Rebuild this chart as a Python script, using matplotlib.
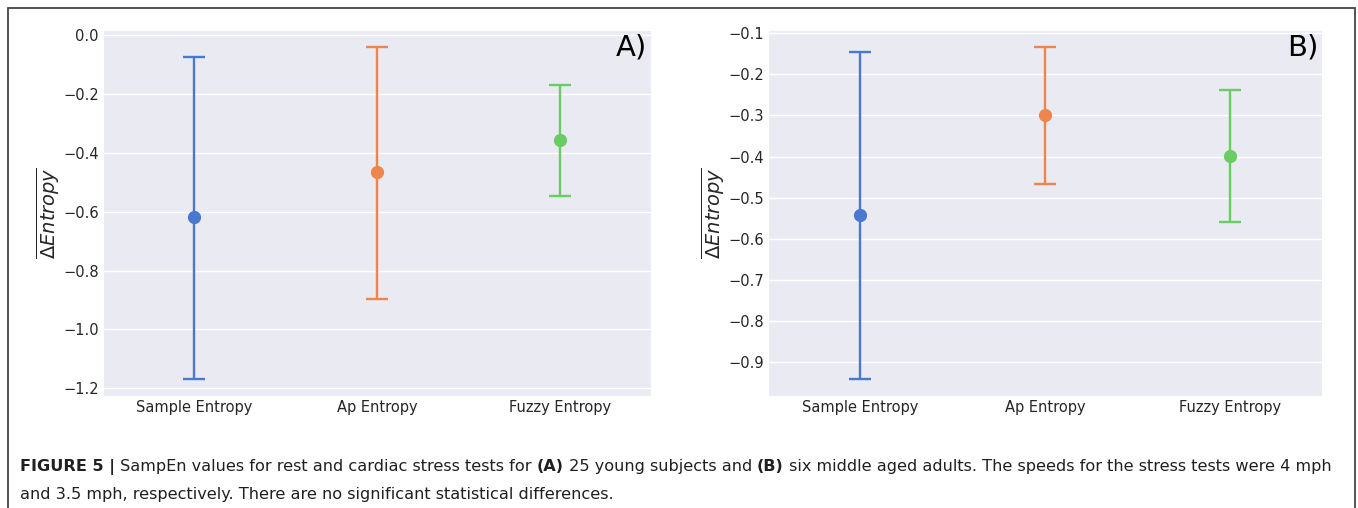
import matplotlib
matplotlib.use("Agg")
import matplotlib.pyplot as plt
import matplotlib.patches as mpatches
import matplotlib.ticker as mticker
import seaborn as sns
import numpy as np

# ---- data ----
categories = ["Sample Entropy", "Ap Entropy", "Fuzzy Entropy"]
mean_A = [-0.618, -0.466, -0.357]
low_A = [-1.170, -0.897, -0.547]
high_A = [-0.073, -0.038, -0.170]

mean_B = [-0.542, -0.298, -0.398]
low_B = [-0.941, -0.466, -0.559]
high_B = [-0.145, -0.133, -0.239]

colors = ["#4878D0", "#EE854A", "#6ACC64"]
panel_labels = ["A)", "B)"]
ylabel = r"$\overline{\Delta Entropy}$"

caption_line1 = [("FIGURE 5 |", "bold"),
                 (" SampEn values for rest and cardiac stress tests for ", "normal"),
                 ("(A)", "bold"),
                 (" 25 young subjects and ", "normal"),
                 ("(B)", "bold"),
                 (" six middle aged adults. The speeds for the stress tests were 4 mph", "normal")]
caption_line2 = [("and 3.5 mph, respectively. There are no significant statistical differences.", "normal")]

sns.set_style("darkgrid")
plt.rcParams["font.family"] = ["DejaVu Sans"]
plt.rcParams["axes.unicode_minus"] = True

W, H = 1358, 508
fig = plt.figure(figsize=(W / 100, H / 100), dpi=100)
fig.patch.set_facecolor("white")

axA = fig.add_axes([103 / W, 1 - 396 / H, (651 - 103) / W, (396 - 30) / H])
axB = fig.add_axes([768 / W, 1 - 396 / H, (1322 - 768) / W, (396 - 30) / H])

for ax, means, lows, highs, lab in [(axA, mean_A, low_A, high_A, panel_labels[0]),
                                     (axB, mean_B, low_B, high_B, panel_labels[1])]:
    x = np.arange(len(categories))
    for i in range(len(categories)):
        m = means[i]
        err = [[m - lows[i]], [highs[i] - m]]
        ax.errorbar([x[i]], [m], yerr=err, fmt="o", color=colors[i],
                    ecolor=colors[i], elinewidth=1.7, capsize=8, capthick=1.7,
                    markersize=8.5, zorder=3)
    ax.set_xlim(-0.5, 2.5)
    ax.set_xticks(x)
    ax.set_xticklabels(categories)
    ax.xaxis.grid(False)
    ax.yaxis.grid(True, color="white", linewidth=1.0)
    ax.set_facecolor("#EAEAF2")
    ax.tick_params(axis="both", labelsize=10.5, colors="0.15", length=0)
    ax.tick_params(axis="y", pad=3)
    ax.tick_params(axis="x", pad=3)
    ax.set_ylabel(ylabel, fontsize=14, color="0.15", labelpad=1)
    ax.text(0.993, 0.99, lab, transform=ax.transAxes, ha="right", va="top",
            fontsize=21, color="black")
    ax.margins(y=0.05)

axA.yaxis.set_major_locator(mticker.MultipleLocator(0.2))
axB.yaxis.set_major_locator(mticker.MultipleLocator(0.1))
fmt = lambda v, p: ("%.1f" % v).replace("-", "\u2212")
axA.yaxis.set_major_formatter(mticker.FuncFormatter(fmt))
axB.yaxis.set_major_formatter(mticker.FuncFormatter(fmt))

# outer border
border = mpatches.Rectangle((8 / W, -0.05), (1355 - 8) / W, 1 - 8 / H + 0.05,
                            transform=fig.transFigure, fill=False,
                            edgecolor="#444444", linewidth=1.3, clip_on=False)
fig.patches.append(border)

# caption
fig.canvas.draw()
renderer = fig.canvas.get_renderer()
cap_family = ["DejaVu Sans"]

def draw_line(segments, x0, y0, fs, keep=True):
    x = x0
    objs = []
    for txt, wt in segments:
        t = fig.text(x / W, 1 - y0 / H, txt, fontsize=fs, fontweight=wt,
                     family=cap_family, color="#231f20",
                     ha="left", va="baseline")
        bb = t.get_window_extent(renderer=renderer)
        x = x + bb.width
        objs.append(t)
    if not keep:
        for t in objs:
            t.remove()
    return x - x0

trial = 10.0
w = draw_line(caption_line1, 20, 471, trial, keep=False)
cap_fs = trial * (1332 - 20) / w

draw_line(caption_line1, 20, 471, cap_fs)
draw_line(caption_line2, 20, 499, cap_fs)

fig.savefig("out.png", dpi=100, facecolor="white")
